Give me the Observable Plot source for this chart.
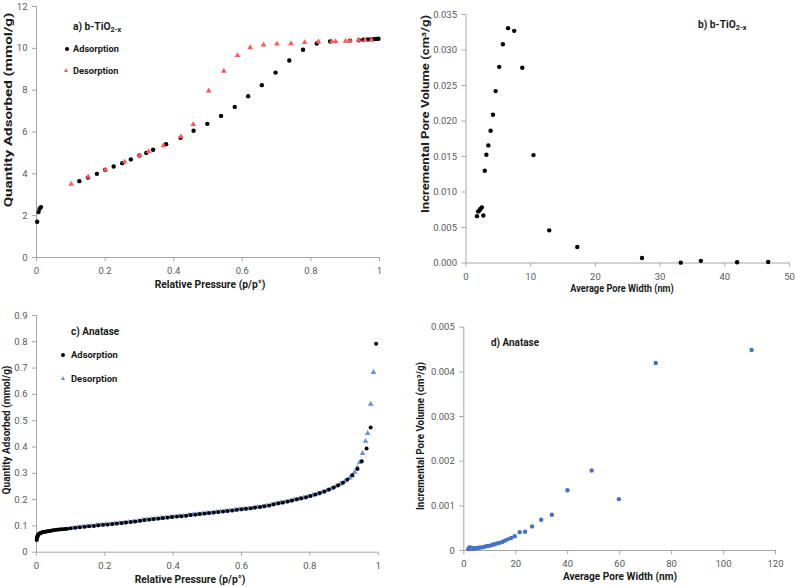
<!DOCTYPE html>
<html><head><meta charset="utf-8">
<script src="https://cdn.jsdelivr.net/npm/d3@7"></script>
<script src="https://cdn.jsdelivr.net/npm/@observablehq/plot@0.6"></script>
<style>
html,body{margin:0;padding:0;background:#fff;}
#wrap{position:relative;width:796px;height:587px;overflow:hidden;font-family:Roboto,sans-serif;}
.lbl{position:absolute;white-space:nowrap;line-height:1;}
.lbl sub{font-size:0.72em;vertical-align:-0.3em;line-height:0;}
.mk{position:absolute;}
</style></head>
<body><div id="wrap"></div>
<script>
// ---------- Panel a) b-TiO2-x isotherm ----------
const aAdsX = [0.002,0.006,0.009,0.013,0.125,0.15,0.176,0.2,0.225,0.25,0.275,0.3,0.32,0.34,0.378,0.42,0.458,0.498,0.538,0.578,0.617,0.657,0.697,0.737,0.777,0.817,0.856,0.914,0.94,0.953,0.966,0.975,0.983,0.99,0.997];
const aAdsY = [1.71,2.17,2.33,2.41,3.65,3.82,4.0,4.19,4.35,4.51,4.69,4.88,5.0,5.15,5.42,5.72,6.06,6.39,6.77,7.2,7.71,8.24,8.84,9.42,9.93,10.23,10.33,10.37,10.39,10.41,10.42,10.43,10.44,10.45,10.46];
const aDesX = [0.101,0.151,0.201,0.257,0.301,0.327,0.37,0.421,0.457,0.502,0.546,0.586,0.623,0.662,0.701,0.742,0.782,0.822,0.861,0.872,0.901,0.914,0.939,0.958,0.976];
const aDesY = [3.51,3.86,4.19,4.57,4.88,5.07,5.35,5.78,6.37,7.97,8.91,9.66,10.04,10.17,10.21,10.23,10.28,10.31,10.33,10.33,10.35,10.36,10.39,10.40,10.41];
const aXTicks = [0,0.2,0.4,0.6,0.8,1];
const aYTicks = [0,2,4,6,8,10,12];

// ---------- Panel b) b-TiO2-x pore size distribution ----------
const bWidth = [1.7,1.88,2.08,2.25,2.45,2.68,2.9,3.15,3.45,3.8,4.17,4.58,5.13,5.7,6.5,7.45,8.7,10.43,12.86,17.2,27.2,33.2,36.3,41.9,46.7];
const bVolume = [0.0066,0.00727,0.0074,0.00765,0.00784,0.0067,0.0130,0.01525,0.01656,0.01863,0.02088,0.02421,0.02763,0.03082,0.03308,0.0327,0.02749,0.0152,0.0046,0.00225,0.0007,0.00005,0.0003,0.0001,0.00015];
const bXTicks = [0,10,20,30,40,50];
const bYTicks = [0,0.005,0.010,0.015,0.020,0.025,0.030,0.035];

// ---------- Panel c) Anatase isotherm ----------
const cAdsX = [0.0005,0.001,0.0015,0.002,0.003,0.004,0.005,0.006,0.008,0.010,0.012,0.015,0.018,0.021,0.025,0.029,0.033,0.038,0.043,0.048,0.054,0.060,0.066,0.072,0.078,0.084,0.090,
  0.100,0.114,0.127,0.141,0.154,0.168,0.181,0.195,0.208,0.222,0.235,0.249,0.262,0.276,0.289,0.303,0.316,0.330,0.343,0.357,
  0.370,0.384,0.397,0.411,0.424,0.438,0.451,0.465,0.478,0.492,0.505,0.519,0.532,0.546,0.559,0.573,0.586,0.600,0.613,0.627,
  0.640,0.654,0.667,0.681,0.694,0.708,0.721,0.735,0.748,0.762,0.775,0.789,0.802,0.816,0.829,0.843,0.856,0.870,0.883,0.897,
  0.910,0.924,0.939,0.952,0.966,0.978,0.994];
const cAdsY = [0.046,0.050,0.054,0.057,0.061,0.064,0.066,0.068,0.070,0.072,0.073,0.075,0.076,0.077,0.078,0.079,0.080,0.081,0.082,0.083,0.084,0.085,0.086,0.087,0.087,0.088,0.089,
  0.091,0.093,0.095,0.097,0.099,0.100,0.102,0.104,0.105,0.107,0.109,0.111,0.113,0.115,0.117,0.120,0.122,0.124,0.126,0.128,
  0.130,0.132,0.134,0.136,0.137,0.139,0.141,0.143,0.145,0.147,0.149,0.151,0.153,0.155,0.157,0.159,0.161,0.163,0.165,0.167,
  0.170,0.172,0.175,0.178,0.182,0.186,0.189,0.193,0.197,0.201,0.205,0.209,0.214,0.219,0.225,0.231,0.238,0.246,0.255,0.264,
  0.276,0.293,0.316,0.346,0.394,0.474,0.793];
const cDesX = [0.107,0.121,0.134,0.148,0.161,0.175,0.188,0.202,0.215,0.229,0.242,0.256,0.269,0.283,0.296,0.310,0.323,0.337,0.350,0.364,
  0.377,0.391,0.404,0.418,0.431,0.445,0.458,0.472,0.485,0.499,0.512,0.526,0.539,0.553,0.566,0.580,0.593,0.607,0.620,0.634,
  0.647,0.661,0.674,0.688,0.701,0.715,0.728,0.742,0.755,0.769,0.782,0.796,0.809,0.823,0.836,0.850,0.863,0.877,0.890,0.903,
  0.917,0.924,0.931,0.939,0.946,0.954,0.963,0.969,0.978,0.986];
const cDesY = [0.092,0.094,0.096,0.098,0.100,0.101,0.103,0.105,0.106,0.108,0.110,0.112,0.114,0.116,0.118,0.121,0.123,0.125,0.127,0.129,
  0.131,0.133,0.135,0.137,0.138,0.140,0.142,0.144,0.146,0.148,0.150,0.152,0.154,0.156,0.158,0.160,0.162,0.164,0.166,0.168,
  0.171,0.173,0.176,0.180,0.184,0.188,0.191,0.195,0.199,0.203,0.207,0.212,0.217,0.222,0.228,0.235,0.242,0.251,0.260,0.270,
  0.283,0.291,0.304,0.322,0.342,0.376,0.422,0.452,0.563,0.684];
const cXTicks = [0,0.2,0.4,0.6,0.8,1];
const cYTicks = [0,0.1,0.2,0.3,0.4,0.5,0.6,0.7,0.8,0.9];

// ---------- Panel d) Anatase pore size distribution ----------
const dWidth = [1.7,1.9,2.1,2.3,2.6,2.9,3.3,3.7,4.1,4.6,5.2,5.8,6.5,7.5,8.3,9.2,10.2,11.0,11.9,12.8,13.7,14.8,15.8,16.9,18.2,19.6,21.5,23.6,26.3,29.8,33.9,39.9,49.2,59.7,73.9,110.8];
const dVolume = [0.00003,0.00004,0.00006,0.00007,0.00006,0.00005,0.000045,0.000045,0.00005,0.00005,0.000052,0.00006,0.000067,0.000075,0.00009,0.0001,0.00011,0.00013,0.00014,0.00016,0.00017,0.00019,0.00022,0.00025,0.00028,0.00032,0.00041,0.00042,0.00054,0.00069,0.0008,0.00135,0.00179,0.00115,0.0042,0.00449];
const dXTicks = [0,20,40,60,80,100,120];
const dYTicks = [0,0.001,0.002,0.003,0.004,0.005];

// ---------- styles ----------
const axisGray = "#a6a6a6";
const red = "#ff5a5a";
const lightBlue = "#6b93d6";
const blue = "#4472c4";

const wrap = document.getElementById("wrap");
const rows = (xs, ys) => xs.map((x, i) => ({x, y: ys[i]}));

function panel({left, top, width, height, margins, xDomain, yDomain, xTicks, yTicks, xFmt, yFmt, marks}) {
  const svg = Plot.plot({
    width, height, ...margins,
    style: {fontFamily: "Roboto, sans-serif", fontSize: "9.5px", color: "#595959", background: "transparent", overflow: "visible"},
    x: {domain: xDomain},
    y: {domain: yDomain},
    marks: [
      Plot.ruleX([xDomain[0]], {stroke: axisGray}),
      Plot.ruleY([yDomain[0]], {stroke: axisGray}),
      Plot.axisX({ticks: xTicks, tickFormat: xFmt, tickSize: 4, tickPadding: 6, stroke: axisGray, label: null}),
      Plot.axisY({ticks: yTicks, tickFormat: yFmt, tickSize: 4, tickPadding: 5, stroke: axisGray, label: null}),
      ...marks
    ]
  });
  svg.style.position = "absolute";
  svg.style.left = left + "px";
  svg.style.top = top + "px";
  wrap.appendChild(svg);
}

function addText(html, x, y, {size = 9.5, anchor = "middle", rotate = false, len = null, color = "#1a1a1a", weight = "bold"} = {}) {
  const el = document.createElement("div");
  el.className = "lbl";
  el.innerHTML = html;
  el.style.fontSize = size + "px";
  el.style.color = color;
  el.style.fontWeight = weight;
  el.style.left = x + "px";
  el.style.top = y + "px";
  wrap.appendChild(el);
  const w = el.offsetWidth;
  const s = len ? len / w : 1;
  if (rotate) {
    el.style.transform = `translate(-50%,-50%) rotate(-90deg) scaleX(${s})`;
  } else if (anchor === "middle") {
    el.style.transform = `translate(-50%,-50%) scaleX(${s})`;
  } else {
    el.style.transformOrigin = "0 50%";
    el.style.transform = `translateY(-50%) scaleX(${s})`;
  }
}
function dotMarker(x, y, color) {
  const el = document.createElement("div");
  el.className = "mk";
  el.style.cssText += `left:${x - 2.2}px;top:${y - 2.2}px;width:4.4px;height:4.4px;border-radius:50%;background:${color};`;
  wrap.appendChild(el);
}
function triMarker(x, y, color) {
  const el = document.createElement("div");
  el.className = "mk";
  el.style.cssText += `left:${x - 2.6}px;top:${y - 2.6}px;width:0;height:0;border-left:2.6px solid transparent;border-right:2.6px solid transparent;border-bottom:4.6px solid ${color};`;
  wrap.appendChild(el);
}

const plain = d => String(d);

// Panel a
panel({
  left: 0, top: 0, width: 400, height: 290,
  margins: {marginLeft: 36, marginRight: 21, marginTop: 6, marginBottom: 33},
  xDomain: [0, 1], yDomain: [0, 12], xTicks: aXTicks, yTicks: aYTicks, xFmt: plain, yFmt: plain,
  marks: [
    Plot.dot(rows(aAdsX, aAdsY), {x: "x", y: "y", r: 2.2, fill: "#000"}),
    Plot.dot(rows(aDesX, aDesY), {x: "x", y: "y", r: 2.1, symbol: "triangle", fill: red})
  ]
});
// Panel b
panel({
  left: 400, top: 0, width: 396, height: 290,
  margins: {marginLeft: 65.5, marginRight: 7, marginTop: 14, marginBottom: 27.5},
  xDomain: [0, 50], yDomain: [0, 0.035], xTicks: bXTicks, yTicks: bYTicks, xFmt: plain, yFmt: d3.format(".3f"),
  marks: [
    Plot.dot(rows(bWidth, bVolume), {x: "x", y: "y", r: 2.2, fill: "#000"})
  ]
});
// Panel c
panel({
  left: 0, top: 290, width: 400, height: 297,
  margins: {marginLeft: 36, marginRight: 22.3, marginTop: 25, marginBottom: 35.3},
  xDomain: [0, 1], yDomain: [0, 0.9], xTicks: cXTicks, yTicks: cYTicks, xFmt: plain, yFmt: plain,
  marks: [
    Plot.dot(rows(cDesX, cDesY), {x: "x", y: "y", r: 2.1, symbol: "triangle", fill: lightBlue}),
    Plot.dot(rows(cAdsX, cAdsY), {x: "x", y: "y", r: 2, fill: "#000"})
  ]
});
// Panel d
panel({
  left: 400, top: 290, width: 396, height: 297,
  margins: {marginLeft: 63.3, marginRight: 21, marginTop: 36.7, marginBottom: 37},
  xDomain: [0, 120], yDomain: [0, 0.005], xTicks: dXTicks, yTicks: dYTicks, xFmt: plain,
  yFmt: d => d === 0 ? "0" : d3.format(".3f")(d),
  marks: [
    Plot.dot(rows(dWidth, dVolume), {x: "x", y: "y", r: 2.2, fill: blue})
  ]
});

// Axis titles
addText("Quantity Adsorbed (mmol/g)", 9, 110, {rotate: true, len: 195, size: 10.5});
addText("Relative Pressure (p/p°)", 209.5, 285, {len: 111, size: 10.5});
addText("Incremental Pore Volume (cm³/g)", 426, 114, {rotate: true, len: 198, size: 10.5});
addText("Average Pore Width (nm)", 622, 288.5, {len: 104, size: 10});
addText("Quantity Adsorbed (mmol/g)", 6.7, 429.5, {rotate: true, len: 129, size: 10.5});
addText("Relative Pressure (p/p°)", 190, 580, {len: 111, size: 10.5});
addText("Incremental Pore Volume (cm³/g)", 421, 436, {rotate: true, len: 148, size: 10.5});
addText("Average Pore Width (nm)", 619.7, 576.7, {len: 114, size: 10.5});

// Panel labels
addText("a) b-TiO<sub>2-x</sub>", 72.7, 26.7, {anchor: "start", len: 48, size: 10});
addText("b) b-TiO<sub>2-x</sub>", 697.7, 25, {anchor: "start", len: 49, size: 10});
addText("c) Anatase", 70.7, 332.3, {anchor: "start", len: 48.3, size: 10});
addText("d) Anatase", 490.7, 342.7, {anchor: "start", len: 47.6, size: 10});

// Legends
dotMarker(66.7, 49, "#000");
addText("Adsorption", 72.7, 49, {anchor: "start", len: 45.6, size: 9.5});
triMarker(66.7, 71, red);
addText("Desorption", 72.7, 71, {anchor: "start", len: 45.6, size: 9.5});
dotMarker(63.3, 355.3, "#000");
addText("Adsorption", 70.7, 355.3, {anchor: "start", len: 46.6, size: 9.5});
triMarker(63.3, 379, lightBlue);
addText("Desorption", 70.7, 379, {anchor: "start", len: 46.6, size: 9.5});
</script>
</body></html>
